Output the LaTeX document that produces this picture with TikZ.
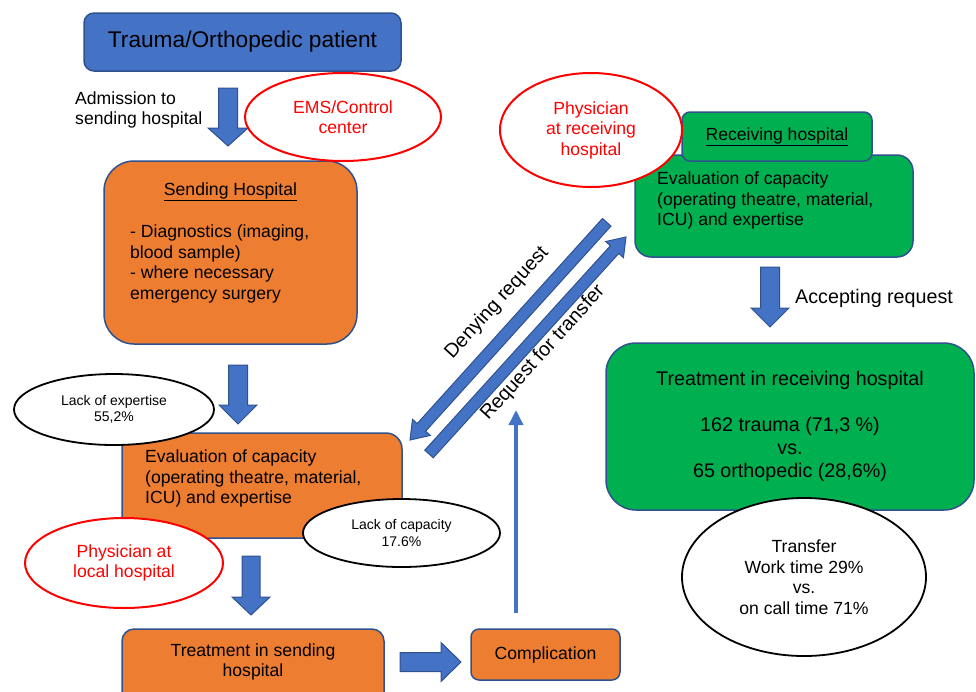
\documentclass[tikz,border=0pt]{standalone}
\usepackage{fontspec}
\setmainfont{Liberation Sans}
\usetikzlibrary{shapes.geometric,calc,arrows.meta}
\definecolor{patientblue}{HTML}{4472C4}
\definecolor{borderblue}{HTML}{2F528F}
\definecolor{sendorange}{HTML}{ED7D31}
\definecolor{recvgreen}{HTML}{00B050}
\definecolor{ovalred}{HTML}{FF0000}
\newcommand{\mainsize}{\fontsize{17.6}{20.5}\selectfont}
\newcommand{\smallsize}{\fontsize{14}{16.5}\selectfont}
\newcommand{\bigsize}{\fontsize{19.7}{23}\selectfont}
\newcommand{\titlesize}{\fontsize{22.7}{26}\selectfont}
% block arrow: tail, tip, half shaft, half head, head length
\newcommand{\blockarrow}[5]{%
  \coordinate (neck) at ($(#2)!#5!(#1)$);
  \draw[barrow] ($(#1)!#3!90:(#2)$) -- ($(neck)!#3!90:(#2)$) -- ($(neck)!#4!90:(#2)$) -- (#2)
    -- ($(neck)!#4!-90:(#2)$) -- ($(neck)!#3!-90:(#2)$) -- ($(#1)!#3!-90:(#2)$) -- cycle;
}
\tikzset{
  boxline/.style={draw=borderblue, line width=1.5pt, inner sep=0pt},
  bluebox/.style={boxline, fill=patientblue, rounded corners=10pt},
  orangebox/.style={boxline, fill=sendorange},
  greenbox/.style={boxline, fill=recvgreen},
  redoval/.style={ellipse, draw=ovalred, line width=2pt, fill=white, text=ovalred, align=center, inner sep=0pt, font=\mainsize},
  blackoval/.style={ellipse, draw=black, line width=1.8pt, fill=white, align=center, inner sep=0pt},
  plaintext/.style={inner sep=0pt, align=left, font=\mainsize},
  barrow/.style={fill=patientblue, draw=borderblue, line width=1pt, line join=miter},
  thinarrow/.style={draw=patientblue, line width=3.5pt, -{Triangle[width=14pt,length=15pt]}}
}
\begin{document}
\begin{tikzpicture}[x=1pt,y=1pt,yscale=-1]
\useasboundingbox (0,0) rectangle (976,691);
\clip (0,0) rectangle (976,691);

%Shape: Patient
\node[bluebox, minimum width=317pt, minimum height=58pt, font=\titlesize] (patient) at (242.5,42) {Trauma/Orthopedic patient};
% Text Node
\node[plaintext, anchor=west] (admission) at (75,110) {Admission to\\sending hospital};
%Block Arrow
\coordinate (a1tail) at (228,88);
\coordinate (a1tip) at (228,146);
\blockarrow{a1tail}{a1tip}{9.5pt}{20pt}{18pt}

%Shape: Sending hospital
\node[orangebox, rounded corners=30pt, minimum width=253pt, minimum height=183pt] (sending) at (230.5,252.5) {};
% Text Node
\node[plaintext] (sendingtitle) at (230.5,192) {\underline{Sending Hospital}};
% Text Node
\node[plaintext, anchor=west] (sendingtext) at (130,264) {- Diagnostics (imaging,\\blood sample)\\- where necessary\\emergency surgery};
%Block Arrow
\coordinate (a2tail) at (238,365);
\coordinate (a2tip) at (238,424);
\blockarrow{a2tail}{a2tip}{9.5pt}{19pt}{19pt}

%Shape: Evaluation at sending hospital
\node[orangebox, rounded corners=16pt, minimum width=280pt, minimum height=105pt] (evalsend) at (262,485.5) {};
% Text Node
\node[plaintext, anchor=west] (evalsendtext) at (145,478.5) {Evaluation of capacity\\(operating theatre, material,\\ICU) and expertise};
%Block Arrow
\coordinate (a3tail) at (251,556);
\coordinate (a3tip) at (251,615);
\blockarrow{a3tail}{a3tip}{9pt}{19pt}{18pt}

%Shape: Treatment in sending hospital
\node[orangebox, rounded corners=12pt, minimum width=262pt, minimum height=82pt] (treatsend) at (253,670) {};
% Text Node
\node[plaintext, align=center] (treatsendtext) at (253,662) {Treatment in sending\\hospital};
%Block Arrow
\coordinate (a4tail) at (400,662);
\coordinate (a4tip) at (461,662);
\blockarrow{a4tail}{a4tip}{9.5pt}{19.5pt}{20pt}
%Shape: Complication
\node[orangebox, rounded corners=8pt, minimum width=149pt, minimum height=51pt, font=\mainsize] (complication) at (545.5,654.5) {Complication};
%Arrow up
\coordinate (complstart) at (516,613);
\coordinate (requestend) at (516,410);
\draw[thinarrow] (complstart) -- (requestend);

%Diagonal arrows
\coordinate (denytail) at (606.7,222.3);
\coordinate (denytip) at (410,440);
\blockarrow{denytail}{denytip}{5.7pt}{12pt}{17pt}
\coordinate (reqtail) at (429,454);
\coordinate (reqtip) at (626,237);
\blockarrow{reqtail}{reqtip}{5.7pt}{12pt}{17pt}
% Text Node
\node[plaintext, rotate=47.8, font=\bigsize] (denylabel) at (497,303) {Denying request};
% Text Node
\node[plaintext, rotate=47.8, font=\bigsize] (reqlabel) at (543,353) {Request for transfer};

%Shape: Receiving hospital
\node[greenbox, rounded corners=16pt, minimum width=278pt, minimum height=102pt] (evalrecv) at (774,206) {};
% Text Node
\node[plaintext, anchor=west] (evalrecvtext) at (657,200.5) {Evaluation of capacity\\(operating theatre, material,\\ICU) and expertise};
\node[greenbox, rounded corners=8pt, minimum width=190pt, minimum height=49pt, font=\mainsize] (recvtab) at (777,136.5) {\underline{Receiving hospital}};
%Block Arrow
\coordinate (a5tail) at (770,267);
\coordinate (a5tip) at (770,327);
\blockarrow{a5tail}{a5tip}{9.5pt}{19pt}{19pt}
% Text Node
\node[plaintext, anchor=west, font=\bigsize] (accepting) at (795,298) {Accepting request};
%Shape: Treatment in receiving hospital
\node[greenbox, rounded corners=30pt, minimum width=368pt, minimum height=167pt, align=center, font=\bigsize] (treatrecv) at (790,426.5) {Treatment in receiving hospital\\[23pt]162 trauma (71,3 \%)\\vs.\\65 orthopedic (28,6\%)};

%Ellipses
\node[redoval, minimum width=196pt, minimum height=88pt] (ems) at (343,117) {EMS/Control\\center};
\node[blackoval, minimum width=200pt, minimum height=71pt, font=\smallsize] (expertise) at (114,409.5) {Lack of expertise\\55,2\%};
\node[blackoval, minimum width=197pt, minimum height=68pt, font=\smallsize] (capacity) at (401.5,533) {Lack of capacity\\17.6\%};
\node[redoval, minimum width=198pt, minimum height=90pt] (physlocal) at (124,563) {Physician at\\local hospital};
\node[redoval, minimum width=182pt, minimum height=114pt] (physrecv) at (591,130) {Physician\\at receiving\\hospital};
\node[blackoval, minimum width=244pt, minimum height=158pt, font=\mainsize] (transfer) at (804,577) {Transfer\\Work time 29\%\\vs.\\on call time 71\%};
\end{tikzpicture}
\end{document}
